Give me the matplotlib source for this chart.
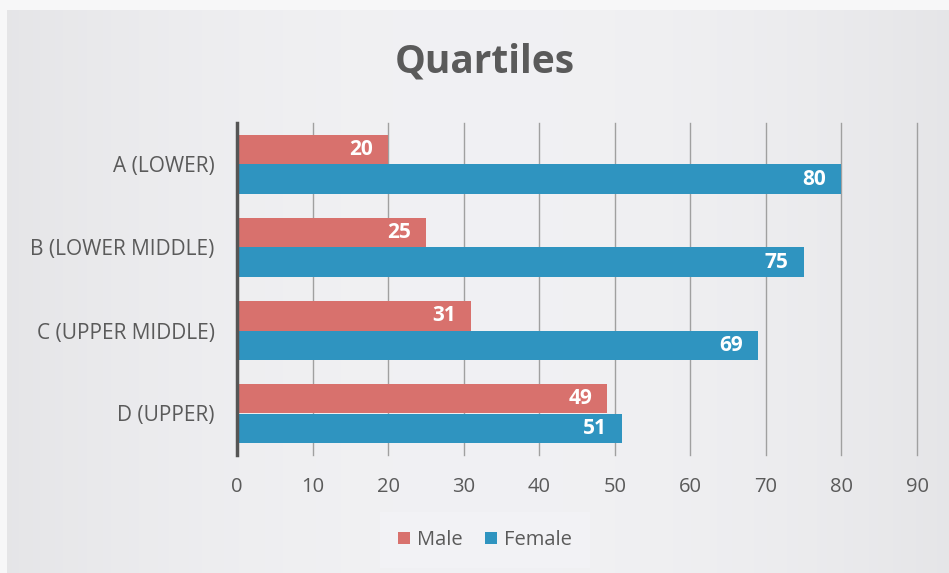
import matplotlib.pyplot as plt
import numpy as np

categories = ['A (LOWER)', 'B (LOWER MIDDLE)', 'C (UPPER MIDDLE)', 'D (UPPER)']
male = [20, 25, 31, 49]
female = [80, 75, 69, 51]
x_ticks = [0, 10, 20, 30, 40, 50, 60, 70, 80, 90]

male_color = '#D8716D'
female_color = '#2F94C0'
text_grey = '#5A5A5A'

plt.rcParams['font.family'] = ['Open Sans', 'DejaVu Sans']

fig = plt.figure(figsize=(9.49, 5.73), dpi=100)
fig.patch.set_facecolor('#F7F7F8')

# background panel with a soft horizontal gradient, like the scanned chart
bg = fig.add_axes([7 / 949, 0, 1 - 7 / 949, 1 - 10 / 573])
xs = np.linspace(-1, 1, 400)
shade = 0.90 + 0.045 * (1 - xs ** 2)
grad = np.tile(shade, (10, 1))
bg.imshow(np.dstack([grad, grad, grad * 1.01]).clip(0, 1), aspect='auto', extent=[0, 1, 0, 1])
bg.set_axis_off()

ax = fig.add_axes([237 / 949, 118 / 573, 680 / 949, 332 / 573])
ax.patch.set_alpha(0)

y = np.arange(len(categories))
h = 0.36
bars_m = ax.barh(y - h / 2, male, height=h, color=male_color, label='Male', zorder=3)
bars_f = ax.barh(y + h / 2, female, height=h, color=female_color, label='Female', zorder=3)

for bars in (bars_m, bars_f):
    for b in bars:
        w = b.get_width()
        ax.text(w - 2.0, b.get_y() + b.get_height() / 2, str(int(w)), ha='right', va='center',
                color='white', fontsize=15, fontweight='bold', zorder=4)

ax.set_ylim(len(categories) - 0.5, -0.5)
ax.set_xlim(0, 90)
ax.set_yticks(y)
ax.set_yticklabels(categories, fontsize=15, color=text_grey)
ax.set_xticks(x_ticks)
ax.set_xticklabels([str(t) for t in x_ticks], fontsize=14.5, color=text_grey)
ax.tick_params(axis='y', length=0, pad=16)
ax.tick_params(axis='x', length=0, pad=16)
ax.xaxis.grid(True, color='#A0A0A0', linewidth=1, zorder=0)
for gl in ax.get_xgridlines():
    gl.set_clip_on(False)

for s in ('top', 'right', 'bottom'):
    ax.spines[s].set_visible(False)
ax.spines['left'].set_color('#555555')
ax.spines['left'].set_linewidth(2.5)
ax.spines['left'].set_zorder(5)

fig.text(485 / 949, 1 - 62 / 573, 'Quartiles', ha='center', va='center',
         fontsize=28, fontweight='bold', color=text_grey)

leg = fig.legend(loc='center', bbox_to_anchor=(485 / 949, 1 - 540 / 573), ncol=2,
                 fontsize=14.5, frameon=True, handlelength=0.6, handleheight=0.6,
                 handletextpad=0.35, columnspacing=1.1, borderpad=0.6)
leg.get_frame().set_facecolor('#F3F3F6')
leg.get_frame().set_edgecolor('none')
leg.get_frame().set_boxstyle('square')
for t in leg.get_texts():
    t.set_color(text_grey)

fig.savefig('out.png', dpi=100)
